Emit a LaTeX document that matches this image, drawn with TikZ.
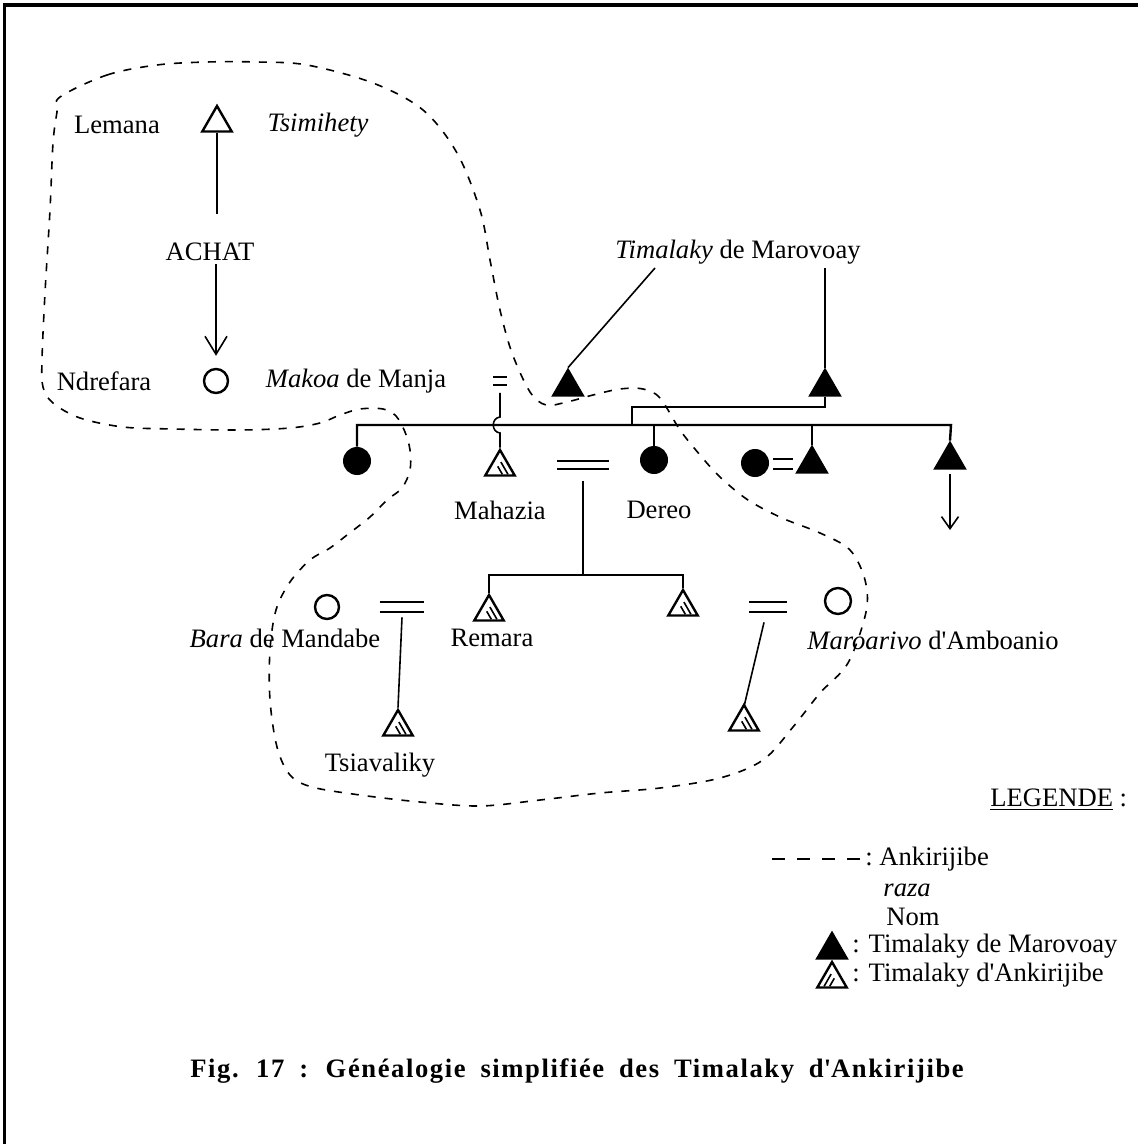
\documentclass[tikz,border=0pt]{standalone}
\usepackage{fontspec}
\setmainfont{Liberation Serif}
\newfontfamily\capfont{Liberation Serif}[LetterSpace=6,WordSpace=1.8]
\usetikzlibrary{shapes.geometric,arrows.meta,calc}

\newcommand\wedbars[1]{\draw[wedline] (#1.north west) -- (#1.north east) (#1.south west) -- (#1.south east);}

\begin{document}
\begin{tikzpicture}[x=0.5pt,y=-0.5pt,
  every node/.style={font=\fontsize{13.3pt}{16pt}\selectfont, inner sep=0pt},
  tri/.style={regular polygon, regular polygon sides=3, minimum size=17pt,
              inner sep=0pt, draw, line width=1.2pt},
  otri/.style={tri},
  ftri/.style={tri, fill=black},
  htri/.style={tri, path picture={
      \draw[line width=0.8pt]
        ([xshift=-3.4pt,yshift=0.6pt]path picture bounding box.south east) -- ++(-3.5pt,6.1pt)
        ([xshift=-6.2pt,yshift=0.6pt]path picture bounding box.south east) -- ++(-2.3pt,4pt);}},
  htrileft/.style={tri, path picture={
      \draw[line width=0.8pt]
        ([xshift=3.4pt,yshift=0.6pt]path picture bounding box.south west) -- ++(3.5pt,6.1pt)
        ([xshift=6.2pt,yshift=0.6pt]path picture bounding box.south west) -- ++(2.3pt,4pt);}},
  ocirc/.style={circle, draw, line width=1.2pt, minimum size=12pt, inner sep=0pt},
  fcirc/.style={circle, fill=black, minimum size=14pt, inner sep=0pt},
  wed/.style={rectangle, inner sep=0pt},
  wedline/.style={line width=1pt},
  link/.style={line width=0.8pt},
  bar/.style={line width=1.2pt},
  blob/.style={dash pattern=on 4pt off 4.5pt, line width=0.8pt},
]
\useasboundingbox (0,0) rectangle (1138,1144);

% frame edges
\draw[line width=2pt] (3,5) -- (1138,5);
\draw[line width=1.5pt] (4,4) -- (4,1144);

% ---------- first generation ----------
\node[otri] (lem) at (217,123) {};
\node (lemana) at (117,125) {Lemana};
\node (tsim) at (318,125) {\textit{Tsimihety}};
\node (achat) at (210,252) {ACHAT};
\node[ocirc] (ndr) at (216,381) {};
\node (ndrefara) at (104,381) {Ndrefara};
\node (makoa) at (356,381) {\textit{Makoa} de Manja};
\node[wed, minimum width=6.5pt, minimum height=3.5pt] (eqA) at (500,381) {};

\draw[link] (lem.south) -- ([yshift=14.5pt]achat.north -| lem.south);
\draw[link, -{Straight Barb[length=9pt,width=11pt,line width=0.8pt]}]
  ([yshift=-1.5pt]achat.south -| ndr.north) -- ([yshift=6pt]ndr.north);

\node (tmv) at (738,252) {\textit{Timalaky} de Marovoay};
\node[ftri] (t1) at (568,387) {};
\node[ftri] (t2) at (825,387) {};
\coordinate (tmvL) at (655,268);
\coordinate (tmvR) at (825,268);
\draw[link] (tmvL) -- (t1.north);
\draw[link] (tmvR) -- (t2.north);

% ---------- second generation ----------
\node[fcirc] (cF1) at (357,461) {};
\node[htri] (mah) at (500,467) {};
\node (mahazia) at (500,510) {Mahazia};
\node[wed, minimum width=25.5pt, minimum height=3.5pt] (eqB) at (583,465) {};
\node[fcirc] (der) at (654,460) {};
\node (dereo) at (659,510) {Dereo};
\node[fcirc] (cC) at (755,463) {};
\node[wed, minimum width=9.5pt, minimum height=4.5pt] (eqC) at (783,464) {};
\node[ftri] (tC) at (812,464) {};
\node[ftri] (tR) at (950,460) {};
\coordinate (tRend) at (950,530);

\coordinate (b1) at (357,425);
\coordinate (b2) at (951,425);
\coordinate (st) at (632,407);
\draw[bar] (cF1.north) -- (b1) -- (b2) -- (tR.north);
\draw[link] (der.north) -- (der.north |- b1);
\draw[link] (tC.north) -- (tC.north |- b1);
\draw[link] (t2.south) |- (st) -- (st |- b1);

% descent of Mahazia, hopping over the sibling bar
\coordinate (hopA) at (500,417);
\coordinate (hopB) at (500,433);
\draw[link] ([yshift=-4pt]eqA.south) -- (hopA)
  .. controls (491,418) and (491,432) .. (hopB) -- (mah.north);

\draw[link, -{Straight Barb[length=6pt,width=8.5pt,line width=0.8pt]}]
  ([yshift=-2pt]tR.south) -- (tRend);

% ---------- third generation ----------
\node[ocirc] (bara) at (327,607) {};
\node (baratxt) at (285,638) {\textit{Bara} de Mandabe};
\node[wed, minimum width=22pt, minimum height=5pt] (eqD) at (402,607) {};
\node[htri] (rem) at (489,612) {};
\node (remara) at (492,638) {Remara};
\node[htri] (tRt) at (683,607) {};
\node[wed, minimum width=18.5pt, minimum height=5pt] (eqE) at (768,607) {};
\node[ocirc, minimum size=13pt] (maro) at (838,601) {};
\node (marotxt) at (933,640) {\textit{Maroarivo} d\textquotesingle Amboanio};

\coordinate (c1) at (489,575);
\coordinate (c2) at (683,575);
\draw[link] ([yshift=-6pt]eqB.south) -- (eqB.south |- c1);
\draw[link] (rem.north) -- (c1) -- (c2) -- (tRt.north);

% ---------- fourth generation ----------
\node[htri] (tsia) at (398,727) {};
\node (tsiatxt) at (380,765) {Tsiavaliky};
\node[htri] (tE) at (744,722) {};
\draw[link] ([yshift=-2.5pt]eqD.south) -- (tsia.north);
\draw[link] ([xshift=-2pt,yshift=-5pt]eqE.south) -- ([yshift=-2pt]tE.north);

\wedbars{eqA}
\wedbars{eqB}
\wedbars{eqC}
\wedbars{eqD}
\wedbars{eqE}

% ---------- boundary of Ankirijibe ----------
\draw[blob] plot[smooth cycle, tension=0.55] coordinates {
  (60,97) (107,75) (157,65) (207,62) (257,62) (307,65) (373,83) (423,110)
  (457,153) (480,210) (490,260) (500,310) (512,353) (530,392) (546,405)
  (567,402) (593,395) (620,389) (643,389) (660,398) (680,430) (700,455)
  (720,477) (748,500) (782,518) (820,533) (850,550) (865,580) (866,612)
  (848,663) (820,693) (793,727) (763,760) (720,778) (660,788) (600,793)
  (540,800) (480,806) (420,802) (360,795) (312,787) (290,775) (277,747)
  (270,700) (270,650) (276,610) (290,582) (310,560) (330,548) (347,535)
  (370,517) (387,500) (402,488) (410,470) (410,450) (405,432) (396,416)
  (383,409) (360,409) (340,415) (320,423) (290,428) (240,430) (173,429)
  (123,427) (80,418) (53,403) (43,387) (42,360) (45,293) (50,210)
  (53,143) (57,112)};

% ---------- legend ----------
\node[anchor=west] (leg) at (990,800) {\underline{LEGENDE} :};
\coordinate (lgA) at (772,859);
\coordinate (lgB) at (861,859);
\draw[dash pattern=on 6.5pt off 6pt, line width=0.8pt] (lgA) -- (lgB);
\node[anchor=west] (lg1) at (865,859) {:\ Ankirijibe};
\node[anchor=west] (lg2) at (883,890) {\textit{raza}};
\node[anchor=west] (lg3) at (886,917) {Nom};
\node[ftri] (lgT) at (832,950) {};
\node[anchor=west] (lg4) at (852,946) {: Timalaky de Marovoay};
\node[htrileft] (lgH) at (832,979) {};
\node[anchor=west] (lg5) at (852,975) {: Timalaky d\textquotesingle Ankirijibe};

% ---------- caption ----------
\node (cap) at (577,1071) {\capfont\bfseries Fig. 17 : Généalogie simplifiée des Timalaky d\textquotesingle Ankirijibe};
\end{tikzpicture}
\end{document}
